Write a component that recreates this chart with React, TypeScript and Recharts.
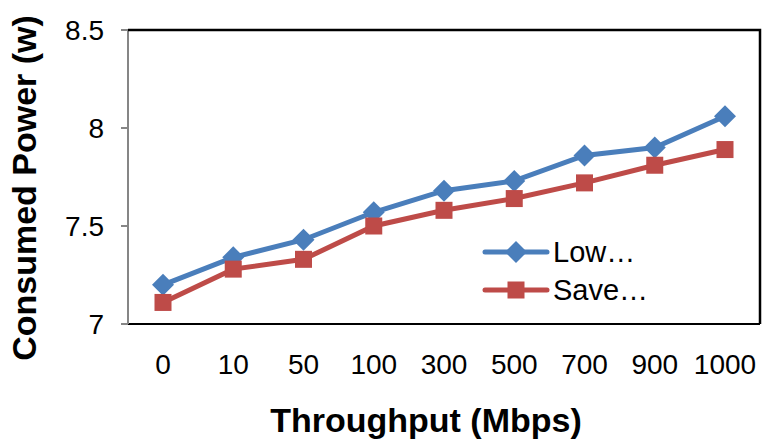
import { LineChart, Line, XAxis, YAxis, Legend } from 'recharts';

const categories = ['0', '10', '50', '100', '300', '500', '700', '900', '1000'];
const lowValues = [7.2, 7.34, 7.43, 7.57, 7.68, 7.73, 7.86, 7.9, 8.06];
const saveValues = [7.11, 7.28, 7.33, 7.5, 7.58, 7.64, 7.72, 7.81, 7.89];
const yTicks = [7, 7.5, 8, 8.5];
const seriesNames = ['Low…', 'Save…'];
const xTitle = 'Throughput (Mbps)';
const yTitle = 'Consumed Power (w)';

const data = categories.map((c, i) => ({ name: c, low: lowValues[i], save: saveValues[i] }));

const FONT = '"Liberation Sans", Arial, sans-serif';
const BLUE = '#4A7EBB';
const RED = '#BE4B48';

const W = 765;
const H = 442;
const MARGIN = { top: 30, right: 5, bottom: 0, left: 0 };
const Y_AXIS_W = 128;
const X_AXIS_H = 118;

const Diamond = ({ cx, cy, color }: any) => (
  <path d={`M${cx},${cy - 11}L${cx + 11},${cy}L${cx},${cy + 11}L${cx - 11},${cy}Z`} fill={color} />
);
const Square = ({ cx, cy, color }: any) => (
  <rect x={cx - 8.5} y={cy - 8.5} width={17} height={17} fill={color} />
);

// legend drawn by hand so the marker sits on the line like Excel does
const LegendContent = ({ payload }: any) => (
  <div style={{ fontFamily: FONT, fontSize: 28, color: '#000' }}>
    {(payload || []).map((p: any) => (
      <div key={p.dataKey} style={{ display: 'flex', alignItems: 'center', height: 38 }}>
        <svg width={68} height={38}>
          <line x1={3} y1={19} x2={65} y2={19} stroke={p.color} strokeWidth={5} strokeLinecap="round" />
          {p.dataKey === 'low'
            ? <Diamond cx={34} cy={19} color={p.color} />
            : <Square cx={34} cy={19} color={p.color} />}
        </svg>
        <span style={{ marginLeft: 3, lineHeight: '38px', fontSize: 29 }}>{p.value}</span>
      </div>
    ))}
  </div>
);

const XTitle = () => (
  <text x={426} y={432} textAnchor="middle"
    style={{ fontFamily: FONT, fontSize: 34, fontWeight: 'bold', fill: '#000' }}>
    {xTitle}
  </text>
);

const YTitle = () => {
  const cx = 36;
  const cy = 188;
  return (
    <text x={cx} y={cy} transform={`rotate(-90, ${cx}, ${cy})`} textAnchor="middle"
      style={{ fontFamily: FONT, fontSize: 34, fontWeight: 'bold', fill: '#000' }}>
      {yTitle}
    </text>
  );
};

export default function App() {
  // plot box, derived from the chart margins and axis sizes
  const plotLeft = MARGIN.left + Y_AXIS_W;
  const plotTop = MARGIN.top;
  const plotRight = W - MARGIN.right;
  const plotBottom = H - MARGIN.bottom - X_AXIS_H;

  return (
    <div style={{ position: 'absolute', left: 0, top: 0, width: W, height: H, background: '#fff' }}>
      <LineChart width={W} height={H} data={data} margin={MARGIN}>
        <XAxis
          dataKey="name"
          height={X_AXIS_H}
          padding={{ left: 35, right: 35 }}
          axisLine={{ stroke: '#000', strokeWidth: 2 }}
          tickLine={false}
          tickSize={0}
          tickMargin={30}
          tick={{ fill: '#000', fontSize: 28, fontFamily: FONT }}
          interval={0}
          label={<XTitle />}
        />
        <YAxis
          width={Y_AXIS_W}
          domain={[7, 8.5]}
          ticks={yTicks}
          axisLine={{ stroke: '#868686', strokeWidth: 2 }}
          tickLine={{ stroke: '#868686', strokeWidth: 2 }}
          tickSize={7}
          tickMargin={17}
          tick={{ fill: '#000', fontSize: 28, fontFamily: FONT }}
          label={<YTitle />}
        />
        <Legend
          layout="vertical"
          align="center"
          verticalAlign="middle"
          content={<LegendContent />}
          wrapperStyle={{ left: 482, top: 233, width: 'auto' }}
        />
        <Line type="linear" dataKey="low" name={seriesNames[0]} stroke={BLUE} strokeWidth={5}
          isAnimationActive={false}
          dot={(p: any) => <Diamond key={`d${p.index}`} cx={p.cx} cy={p.cy} color={BLUE} />}
          activeDot={false} />
        <Line type="linear" dataKey="save" name={seriesNames[1]} stroke={RED} strokeWidth={5}
          isAnimationActive={false}
          dot={(p: any) => <Square key={`s${p.index}`} cx={p.cx} cy={p.cy} color={RED} />}
          activeDot={false} />
      </LineChart>
      {/* top + right border of the plot area (Excel style) */}
      <svg width={W} height={H}
        style={{ position: 'absolute', left: 0, top: 0, zIndex: 10, pointerEvents: 'none' }}>
        <path d={`M${plotLeft},${plotTop}H${plotRight}V${plotBottom}`}
          fill="none" stroke="#000" strokeWidth={2.5} />
      </svg>
    </div>
  );
}
